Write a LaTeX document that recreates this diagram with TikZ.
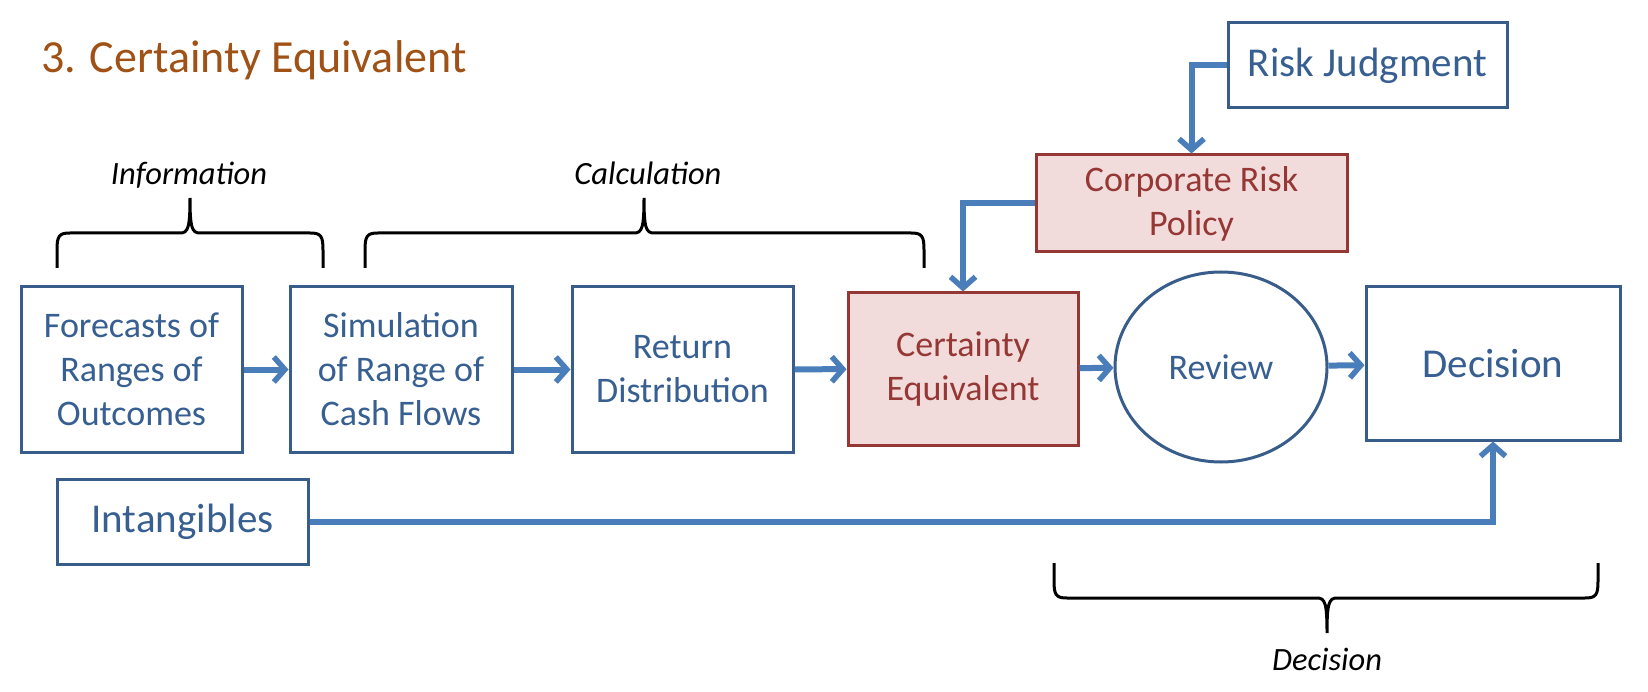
\documentclass[tikz,border=0pt]{standalone}
\usepackage{fontspec}
\setmainfont{Carlito}
\usetikzlibrary{arrows.meta,shapes.geometric}
\definecolor{titlebrown}{RGB}{160,82,22}
\definecolor{boxblue}{RGB}{56,93,138}
\definecolor{txtblue}{RGB}{55,95,145}
\definecolor{arrblue}{RGB}{74,126,187}
\definecolor{pinkfill}{RGB}{242,220,219}
\definecolor{pinkborder}{RGB}{149,55,53}
\tikzset{
  bluebox/.style={rectangle, draw=boxblue, line width=3pt, fill=white, text=txtblue, align=center, inner sep=0pt, font=\fontsize{36}{44}\selectfont},
  bigbox/.style={bluebox, font=\fontsize{41}{49}\selectfont},
  pinkbox/.style={rectangle, draw=pinkborder, line width=3pt, fill=pinkfill, text=pinkborder, align=center, inner sep=0pt, font=\fontsize{36}{44}\selectfont},
  arr/.style={draw=arrblue, line width=6pt, -{Straight Barb[length=11pt,width=25pt,line width=5.5pt]}},
  brc/.style={draw=black, line width=3pt},
  lbl/.style={font=\fontsize{32.5}{38}\selectfont\itshape, text=black, inner sep=0pt}
}
\begin{document}
\begin{tikzpicture}[x=1pt,y=-1pt]
\fill[white] (0,0) rectangle (1648,692);
\useasboundingbox (0,0) rectangle (1648,692);

% title
\node[anchor=base west, inner sep=0pt, text=titlebrown, font=\fontsize{46}{54}\selectfont] (title) at (41,73) {3. Certainty Equivalent};

% braces labels
\node[lbl, anchor=base] (linfo) at (189,185) {Information};
\node[lbl, anchor=base] (lcalc) at (648,185) {Calculation};
\node[lbl, anchor=base] (ldec) at (1327,670) {Decision};

% braces
\draw[brc] (57,268) -- (57,250) .. controls (57,236) and (59,233) .. (70,233) -- (180,233) .. controls (188,233) and (190,228) .. (190,198) .. controls (190,228) and (192,233) .. (200,233) -- (310,233) .. controls (321,233) and (323,236) .. (323,250) -- (323,268);
\draw[brc] (365,268) -- (365,250) .. controls (365,236) and (367,233) .. (378,233) -- (634,233) .. controls (642,233) and (644,228) .. (644,198) .. controls (644,228) and (646,233) .. (654,233) -- (911,233) .. controls (922,233) and (924,236) .. (924,250) -- (924,268);
\draw[brc] (1054,563) -- (1054,581) .. controls (1054,595) and (1056,598) .. (1067,598) -- (1317,598) .. controls (1325,598) and (1327,603) .. (1327,633) .. controls (1327,603) and (1329,598) .. (1337,598) -- (1585,598) .. controls (1596,598) and (1598,595) .. (1598,581) -- (1598,563);

% nodes
\node[bluebox, minimum width=221pt, minimum height=165pt] (fc) at (131.5,369.5) {Forecasts of\\Ranges of\\Outcomes};
\node[bluebox, minimum width=222pt, minimum height=165pt] (sim) at (401,369.5) {Simulation\\of Range of\\Cash Flows};
\node[bluebox, minimum width=221pt, minimum height=165pt] (ret) at (682.5,369.5) {Return\\Distribution};
\node[pinkbox, minimum width=230pt, minimum height=152pt] (ce) at (963,369) {Certainty\\Equivalent};
\node[bluebox, ellipse, minimum width=212pt, minimum height=190pt] (rev) at (1221,367) {Review};
\node[bigbox, minimum width=254pt, minimum height=153pt] (dec) at (1493,363.5) {Decision};
\node[bigbox, minimum width=251pt, minimum height=85pt] (intg) at (182.5,521.5) {Intangibles};
\node[bigbox, minimum width=279pt, minimum height=85pt] (rj) at (1367.5,65.5) {Risk Judgment};
\node[pinkbox, minimum width=311pt, minimum height=97pt] (crp) at (1191.5,203.5) {Corporate Risk\\Policy};

% connectors
\draw[arr] (fc) -- (sim);
\draw[arr] (sim) -- (ret);
\draw[arr] (ret) -- (ce);
\draw[arr] (ce) -- (rev);
\draw[arr] (rev) -- (dec);
\draw[arr] (intg.east) -| (dec.south);
\draw[arr] (rj.west) -| (crp.north);
\draw[arr] (crp.west) -| (ce.north);
\end{tikzpicture}
\end{document}
